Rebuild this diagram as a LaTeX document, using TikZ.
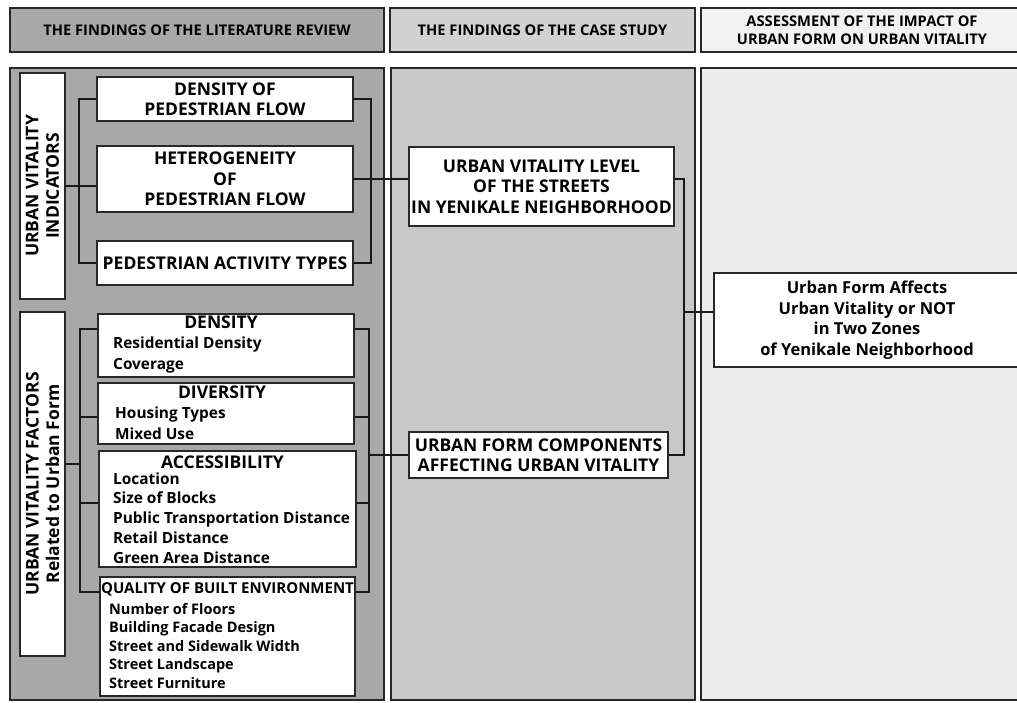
\documentclass[tikz,border=0pt]{standalone}
\usepackage{fontspec}
\setmainfont{Open Sans}
\definecolor{edge}{RGB}{40,40,40}
\definecolor{litgray}{RGB}{168,168,168}
\definecolor{casehead}{RGB}{210,210,210}
\definecolor{casegray}{RGB}{200,200,200}
\definecolor{asshead}{RGB}{242,242,242}
\definecolor{assgray}{RGB}{236,236,236}
\begin{document}
\begin{tikzpicture}[x=1pt, y=-1pt,
    head/.style={draw=edge, line width=1.6pt, minimum height=44, align=center, font=\fontsize{14.7}{18}\selectfont\bfseries},
    panel/.style={draw=edge, line width=2pt, minimum height=632},
    box/.style={draw=edge, fill=white, line width=1.4pt, inner sep=0pt, align=center, font=\fontsize{17.5}{20.5}\selectfont\bfseries},
    side/.style={box, rotate=90, minimum height=45},
    title/.style={anchor=base, inner sep=0pt, font=\fontsize{17.5}{20}\selectfont\bfseries},
    item/.style={anchor=base west, inner sep=0pt, font=\fontsize{15.4}{20}\selectfont\bfseries},
    small/.style={item, font=\fontsize{14.5}{18}\selectfont\bfseries},
    link/.style={draw=black!90, line width=2pt}]
    \useasboundingbox (0,0) rectangle (1017,702);

    \node[head, fill=litgray, minimum width=374] (hLit) at (197,30) {THE FINDINGS OF THE LITERATURE REVIEW};
    \node[head, fill=casehead, minimum width=305] (hCase) at (542.5,30) {THE FINDINGS OF THE CASE STUDY};
    \node[head, fill=asshead, minimum width=322] (hAss) at (862,30) {ASSESSMENT OF THE IMPACT OF\\URBAN FORM ON URBAN VITALITY};

    \node[panel, fill=litgray, minimum width=374] (pLit) at (197,384) {};
    \node[panel, fill=casegray, minimum width=304] (pCase) at (543,384) {};
    \node[panel, fill=assgray, minimum width=322] (pAss) at (862,384) {};

    % indicators
    \node[side, minimum width=226] (uvi) at (42.5,186) {URBAN VITALITY\\INDICATORS};
    \node[box, minimum width=256, minimum height=44] (dpf) at (225,99) {DENSITY OF\\PEDESTRIAN FLOW};
    \node[box, minimum width=256, minimum height=66] (hpf) at (225,179) {HETEROGENEITY\\OF\\PEDESTRIAN FLOW};
    \node[box, minimum width=256, minimum height=44] (pat) at (225,263) {PEDESTRIAN ACTIVITY TYPES};

    % factors
    \node[side, minimum width=344] (uvf) at (42.5,484) {URBAN VITALITY FACTORS\\Related to Urban Form};
    \node[box, minimum width=256, minimum height=63] (den) at (226,345.5) {};
    \node[box, minimum width=256, minimum height=61] (div) at (226,413.5) {};
    \node[box, minimum width=257, minimum height=116] (acc) at (227.5,509) {};
    \node[box, minimum width=255, minimum height=119] (qbe) at (227.5,636.5) {};

    \node[title] (denT) at (221,328) {DENSITY};
    \foreach \t [count=\i] in {Residential Density, Coverage}
        \node[item] (den-\i) at (113,327+\i*21) {\t};
    \node[title] (divT) at (222,398.5) {DIVERSITY};
    \foreach \t [count=\i] in {Housing Types, Mixed Use}
        \node[item] (div-\i) at (115,398+\i*20.5) {\t};
    \node[title] (accT) at (222.5,468) {ACCESSIBILITY};
    \foreach \t [count=\i] in {Location, Size of Blocks, Public Transportation Distance, Retail Distance, Green Area Distance}
        \node[item] (acc-\i) at (113,464.5+\i*19.7) {\t};
    \node[title, font=\fontsize{15}{18}\selectfont\bfseries] (qbeT) at (227.5,593) {QUALITY OF BUILT ENVIRONMENT};
    \foreach \t [count=\i] in {Number of Floors, Building Facade Design, Street and Sidewalk Width, Street Landscape, Street Furniture}
        \node[small] (qbe-\i) at (109,595.5+\i*18.5) {\t};

    % case study and assessment
    \node[box, minimum width=265, minimum height=79] (uvl) at (541.5,186.5) {URBAN VITALITY LEVEL\\OF THE STREETS\\IN YENIKALE NEIGHBORHOOD};
    \node[box, minimum width=259, minimum height=46] (ufc) at (538.5,455) {URBAN FORM COMPONENTS\\AFFECTING URBAN VITALITY};
    \node[box, minimum width=306, minimum height=94, font=\fontsize{16.5}{20.5}\selectfont\bfseries] (ufa) at (867,320) {Urban Form Affects\\Urban Vitality or NOT\\in Two Zones\\of Yenikale Neighborhood};
    \coordinate (join) at (684,312);

    \draw[link] (dpf.west) -- ++(-17,0) |- (pat.west);
    \draw[link] (dpf.east) -- ++(17,0) |- (pat.east);
    \draw[link] (uvi.south) -- (uvi.south -| hpf.west);
    \draw[link] (hpf.east) -- (hpf.east -| uvl.west);

    \draw[link] (den.west |- 0,329) -| (80,592) -- (qbe.west |- 0,592);
    \draw[link] (div.west |- 0,417) -- (80,417);
    \draw[link] (acc.west |- 0,503) -- (80,503);
    \draw[link] (uvf.south |- 0,464) -- (80,464);
    \draw[link] (den.east |- 0,329) -| (369,592) -- (qbe.east |- 0,592);
    \draw[link] (div.east |- 0,417) -- (369,417);
    \draw[link] (acc.east |- 0,503) -- (369,503);
    \draw[link] (369,455) -- (ufc.west);

    \draw[link] (uvl.east |- hpf.east) -| (join) |- (ufc.east);
    \draw[link] (join) -- (join -| ufa.west);
\end{tikzpicture}
\end{document}
